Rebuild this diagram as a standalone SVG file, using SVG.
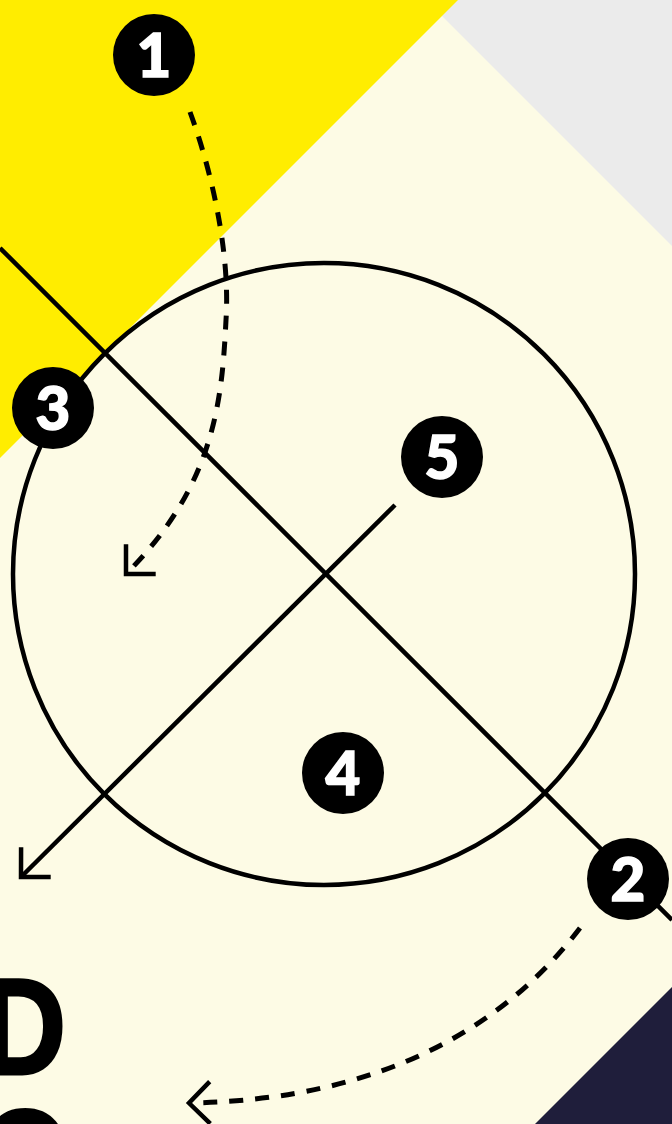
<svg xmlns="http://www.w3.org/2000/svg" width="672" height="1124" viewBox="0 0 672 1124">
<style>
.ln{fill:none;stroke:#000;stroke-width:4.5}
.dash{fill:none;stroke:#000;stroke-width:5;stroke-dasharray:14 12}
.badge circle{fill:#000}
.badge text{fill:#fff;stroke:#fff;stroke-width:1.5;font-family:Lato,"Noto Sans",sans-serif;font-weight:900;font-size:60px;text-anchor:middle}
.big{fill:#000;stroke:#000;stroke-width:3;stroke-linejoin:round;font-family:"Liberation Sans",sans-serif;font-weight:bold;font-size:137px}
</style>
<defs>
<marker id="arr" markerUnits="userSpaceOnUse" markerWidth="60" markerHeight="60" viewBox="-30 -30 60 60" refX="0" refY="0" orient="auto" overflow="visible">
<path d="M-21,-21 L0,0 L-21,21" fill="none" stroke="#000" stroke-width="4.5" stroke-dasharray="none" stroke-linecap="butt" stroke-linejoin="miter"/>
</marker>
</defs>
<g id="background">
<rect width="672" height="1124" fill="#FDFBE5"/>
<polygon points="426,0 672,0 672,246" fill="#EBEBEB"/>
<polygon points="0,0 458,0 0,458" fill="#FFED00"/>
<polygon points="672,987 672,1124 535,1124" fill="#1F1E3B"/>
</g>
<g id="connectors">
<circle class="ln" cx="324" cy="574" r="311"/>
<line class="ln" x1="0" y1="248" x2="672" y2="920"/>
<line class="ln" x1="395" y1="505" x2="21" y2="877" marker-end="url(#arr)"/>
<path class="dash" d="M190,112 C215,180 230,260 226,320 C222,400 215,485 126,574" marker-end="url(#arr)"/>
<path class="dash" d="M580,928 C510,1020 390,1100 189,1103" marker-end="url(#arr)"/>
</g>
<g id="node1" class="badge"><circle cx="154" cy="55" r="41"/><text x="154" y="77">1</text></g>
<g id="node2" class="badge"><circle cx="628" cy="879" r="41"/><text x="628" y="901">2</text></g>
<g id="node3" class="badge"><circle cx="53" cy="408" r="41"/><text x="53" y="430">3</text></g>
<g id="node4" class="badge"><circle cx="343" cy="773" r="41"/><text x="343" y="795">4</text></g>
<g id="node5" class="badge"><circle cx="442" cy="457" r="41"/><text x="442" y="479">5</text></g>
<g id="title">
<text class="big" transform="translate(66,1074) scale(0.85,1)" x="0" y="0" text-anchor="end">D</text>
<text class="big" transform="translate(-20,1206) scale(0.85,1)" x="0" y="0">O</text>
</g>
</svg>
